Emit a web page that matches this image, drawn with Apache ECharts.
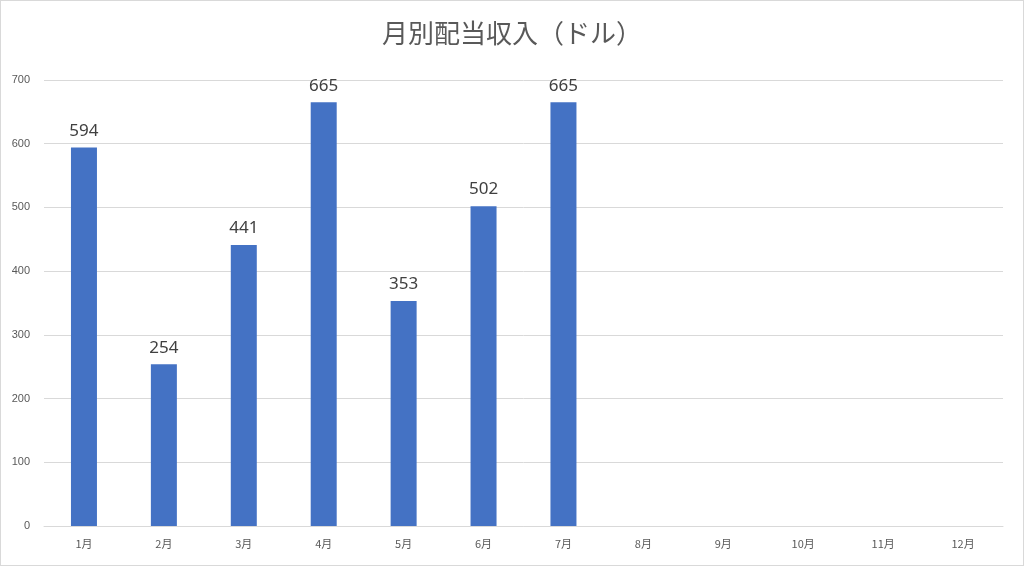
<!DOCTYPE html>
<html><head><meta charset="utf-8">
<script src="https://cdn.jsdelivr.net/npm/echarts@6/dist/echarts.min.js"></script>
<style>html,body{margin:0;padding:0;background:#fff}#c{width:1022px;height:564px;border:1px solid #d9d9d9}</style>
</head><body><div id="c"></div>
<script>
const categories=['1月','2月','3月','4月','5月','6月','7月','8月','9月','10月','11月','12月'];
const values=[594,254,441,665,353,502,665,null,null,null,null,null];
const yTicks={min:0,max:700,interval:100};
const chart=echarts.init(document.getElementById('c'));
chart.setOption({
  animation:false,
  title:{text:'月別配当収入（ドル）',left:'center',top:14,textStyle:{fontSize:26,fontWeight:'normal',color:'#595959',fontFamily:'Noto Sans CJK JP'}},
  grid:{left:43,right:20,top:79,bottom:39},
  xAxis:{type:'category',data:categories,axisTick:{show:false},axisLine:{lineStyle:{color:'#d9d9d9'}},axisLabel:{color:'#595959',fontSize:11,margin:12,fontFamily:'Noto Sans CJK JP'}},
  yAxis:{type:'value',min:yTicks.min,max:yTicks.max,interval:yTicks.interval,axisLabel:{color:'#595959',fontSize:11,margin:14},splitLine:{lineStyle:{color:'#d9d9d9'}}},
  series:[{type:'bar',data:values,barWidth:26,itemStyle:{color:'#4472c4'},label:{show:true,position:'top',fontSize:17,color:'#404040',distance:8,fontFamily:'Noto Sans'}}]
});
</script></body></html>
